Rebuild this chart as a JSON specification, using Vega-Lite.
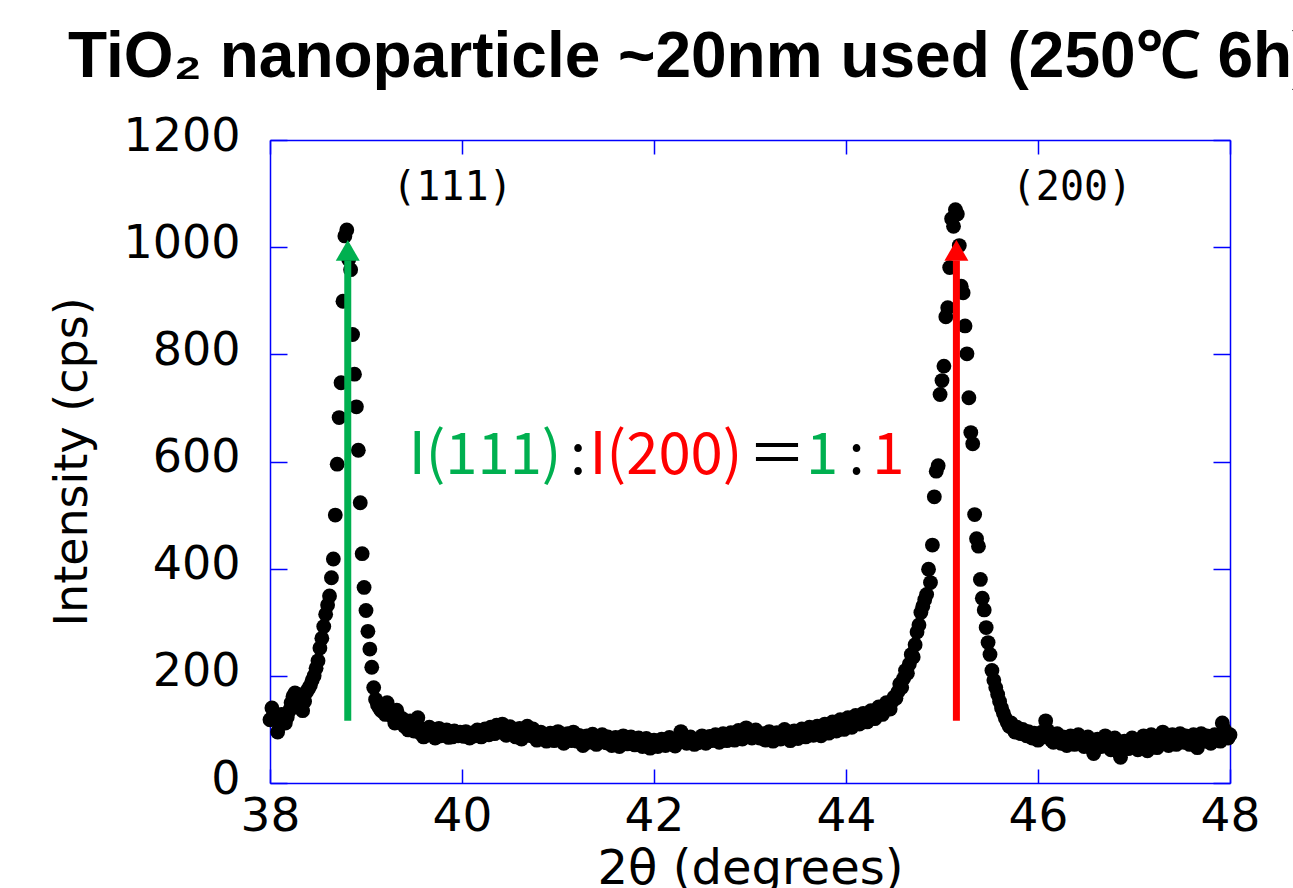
{
"$schema": "https://vega.github.io/schema/vega-lite/v6.json",
"autosize": {"type": "none"},
"width": 960,
"height": 643,
"padding": {"left": 270, "top": 140, "right": 63, "bottom": 105},
"background": "white",
"title": {"text": "TiO₂ nanoparticle ~20nm used (250℃ 6h)", "font": "Liberation Sans", "fontWeight": "bold", "fontSize": 64, "anchor": "start", "frame": "group", "dx": -202, "dy": 88, "offset": 60, "baseline": "alphabetic", "color": "black"},
"config": {"view": {"stroke": null}, "axis": {"domainColor": "#0000ff", "tickColor": "#0000ff", "domainWidth": 1.5, "tickWidth": 1.5, "grid": false, "labelColor": "black", "titleColor": "black", "labelFont": "DejaVu Sans", "titleFont": "DejaVu Sans", "titleFontWeight": "normal"}},
"resolve": {"axis": {"x": "independent", "y": "independent"}},
"layer": [
{"data": {"values": [
{"x":38.00,"y":118},{"x":38.02,"y":140},{"x":38.04,"y":130},{"x":38.06,"y":122},{"x":38.08,"y":95},{"x":38.10,"y":108},{"x":38.12,"y":128},{"x":38.14,"y":118},{"x":38.16,"y":112},{"x":38.18,"y":123},
{"x":38.20,"y":135},{"x":38.22,"y":150},{"x":38.24,"y":162},{"x":38.26,"y":168},{"x":38.28,"y":155},{"x":38.30,"y":165},{"x":38.32,"y":142},{"x":38.34,"y":135},{"x":38.36,"y":152},{"x":38.38,"y":170},
{"x":38.40,"y":176},{"x":38.42,"y":182},{"x":38.44,"y":192},{"x":38.46,"y":200},{"x":38.48,"y":214},{"x":38.50,"y":228},{"x":38.52,"y":252},{"x":38.54,"y":270},{"x":38.56,"y":292},{"x":38.58,"y":315},
{"x":38.60,"y":332},{"x":38.62,"y":349},{"x":38.64,"y":383},{"x":38.66,"y":418},{"x":38.68,"y":500},{"x":38.70,"y":595},{"x":38.72,"y":682},{"x":38.74,"y":747},{"x":38.76,"y":899},{"x":38.78,"y":1021},
{"x":38.80,"y":1032},{"x":38.82,"y":977},{"x":38.84,"y":958},{"x":38.86,"y":837},{"x":38.88,"y":763},{"x":38.90,"y":702},{"x":38.92,"y":621},{"x":38.94,"y":523},{"x":38.96,"y":428},{"x":38.98,"y":365},
{"x":39.00,"y":322},{"x":39.02,"y":283},{"x":39.04,"y":250},{"x":39.06,"y":216},{"x":39.08,"y":178},{"x":39.10,"y":156},{"x":39.12,"y":146},{"x":39.14,"y":140},{"x":39.16,"y":135},{"x":39.18,"y":142},
{"x":39.20,"y":128},{"x":39.22,"y":150},{"x":39.24,"y":137},{"x":39.26,"y":126},{"x":39.28,"y":131},{"x":39.30,"y":112},{"x":39.32,"y":136},{"x":39.34,"y":124},{"x":39.36,"y":114},{"x":39.38,"y":120},
{"x":39.40,"y":106},{"x":39.42,"y":110},{"x":39.44,"y":99},{"x":39.46,"y":116},{"x":39.48,"y":103},{"x":39.50,"y":97},{"x":39.52,"y":108},{"x":39.54,"y":122},{"x":39.56,"y":94},{"x":39.58,"y":101},
{"x":39.60,"y":86},{"x":39.62,"y":96},{"x":39.64,"y":90},{"x":39.66,"y":104},{"x":39.68,"y":92},{"x":39.70,"y":100},{"x":39.72,"y":84},{"x":39.74,"y":96},{"x":39.76,"y":102},{"x":39.78,"y":88},
{"x":39.80,"y":94},{"x":39.82,"y":90},{"x":39.84,"y":99},{"x":39.86,"y":85},{"x":39.88,"y":92},{"x":39.90,"y":86},{"x":39.92,"y":97},{"x":39.94,"y":91},{"x":39.96,"y":88},{"x":39.98,"y":95},
{"x":40.00,"y":90},{"x":40.02,"y":87},{"x":40.04,"y":96},{"x":40.06,"y":92},{"x":40.08,"y":84},{"x":40.10,"y":89},{"x":40.12,"y":94},{"x":40.14,"y":88},{"x":40.16,"y":99},{"x":40.18,"y":92},
{"x":40.20,"y":86},{"x":40.22,"y":95},{"x":40.24,"y":101},{"x":40.26,"y":97},{"x":40.28,"y":90},{"x":40.30,"y":104},{"x":40.32,"y":98},{"x":40.34,"y":92},{"x":40.36,"y":108},{"x":40.38,"y":100},
{"x":40.40,"y":95},{"x":40.42,"y":110},{"x":40.44,"y":103},{"x":40.46,"y":89},{"x":40.48,"y":97},{"x":40.50,"y":105},{"x":40.52,"y":92},{"x":40.54,"y":100},{"x":40.56,"y":86},{"x":40.58,"y":95},
{"x":40.60,"y":102},{"x":40.62,"y":82},{"x":40.64,"y":90},{"x":40.66,"y":98},{"x":40.68,"y":106},{"x":40.70,"y":94},{"x":40.72,"y":88},{"x":40.74,"y":101},{"x":40.76,"y":92},{"x":40.78,"y":80},
{"x":40.80,"y":86},{"x":40.82,"y":95},{"x":40.84,"y":90},{"x":40.86,"y":84},{"x":40.88,"y":78},{"x":40.90,"y":88},{"x":40.92,"y":93},{"x":40.94,"y":85},{"x":40.96,"y":79},{"x":40.98,"y":90},
{"x":41.00,"y":96},{"x":41.02,"y":87},{"x":41.04,"y":82},{"x":41.06,"y":74},{"x":41.08,"y":85},{"x":41.10,"y":92},{"x":41.12,"y":88},{"x":41.14,"y":79},{"x":41.16,"y":95},{"x":41.18,"y":84},
{"x":41.20,"y":78},{"x":41.22,"y":89},{"x":41.24,"y":83},{"x":41.26,"y":70},{"x":41.28,"y":81},{"x":41.30,"y":88},{"x":41.32,"y":76},{"x":41.34,"y":84},{"x":41.36,"y":91},{"x":41.38,"y":79},
{"x":41.40,"y":72},{"x":41.42,"y":84},{"x":41.44,"y":78},{"x":41.46,"y":90},{"x":41.48,"y":82},{"x":41.50,"y":75},{"x":41.52,"y":86},{"x":41.54,"y":80},{"x":41.56,"y":70},{"x":41.58,"y":78},
{"x":41.60,"y":85},{"x":41.62,"y":76},{"x":41.64,"y":68},{"x":41.66,"y":79},{"x":41.68,"y":88},{"x":41.70,"y":82},{"x":41.72,"y":73},{"x":41.74,"y":80},{"x":41.76,"y":86},{"x":41.78,"y":77},
{"x":41.80,"y":71},{"x":41.82,"y":79},{"x":41.84,"y":84},{"x":41.86,"y":75},{"x":41.88,"y":68},{"x":41.90,"y":78},{"x":41.92,"y":83},{"x":41.94,"y":74},{"x":41.96,"y":65},{"x":41.98,"y":72},
{"x":42.00,"y":80},{"x":42.02,"y":76},{"x":42.04,"y":68},{"x":42.06,"y":74},{"x":42.08,"y":82},{"x":42.10,"y":77},{"x":42.12,"y":70},{"x":42.14,"y":78},{"x":42.16,"y":85},{"x":42.18,"y":80},
{"x":42.20,"y":74},{"x":42.22,"y":69},{"x":42.24,"y":77},{"x":42.26,"y":84},{"x":42.28,"y":96},{"x":42.30,"y":88},{"x":42.32,"y":79},{"x":42.34,"y":74},{"x":42.36,"y":81},{"x":42.38,"y":86},
{"x":42.40,"y":78},{"x":42.42,"y":72},{"x":42.44,"y":80},{"x":42.46,"y":75},{"x":42.48,"y":83},{"x":42.50,"y":88},{"x":42.52,"y":80},{"x":42.54,"y":74},{"x":42.56,"y":82},{"x":42.58,"y":87},
{"x":42.60,"y":79},{"x":42.62,"y":84},{"x":42.64,"y":90},{"x":42.66,"y":82},{"x":42.68,"y":76},{"x":42.70,"y":85},{"x":42.72,"y":92},{"x":42.74,"y":86},{"x":42.76,"y":79},{"x":42.78,"y":88},
{"x":42.80,"y":94},{"x":42.82,"y":85},{"x":42.84,"y":80},{"x":42.86,"y":91},{"x":42.88,"y":98},{"x":42.90,"y":87},{"x":42.92,"y":82},{"x":42.94,"y":90},{"x":42.96,"y":103},{"x":42.98,"y":95},
{"x":43.00,"y":88},{"x":43.02,"y":84},{"x":43.04,"y":93},{"x":43.06,"y":99},{"x":43.08,"y":90},{"x":43.10,"y":84},{"x":43.12,"y":92},{"x":43.14,"y":86},{"x":43.16,"y":80},{"x":43.18,"y":89},
{"x":43.20,"y":96},{"x":43.22,"y":87},{"x":43.24,"y":78},{"x":43.26,"y":86},{"x":43.28,"y":94},{"x":43.30,"y":88},{"x":43.32,"y":82},{"x":43.34,"y":91},{"x":43.36,"y":100},{"x":43.38,"y":92},
{"x":43.40,"y":85},{"x":43.42,"y":79},{"x":43.44,"y":90},{"x":43.46,"y":97},{"x":43.48,"y":88},{"x":43.50,"y":83},{"x":43.52,"y":92},{"x":43.54,"y":101},{"x":43.56,"y":94},{"x":43.58,"y":86},
{"x":43.60,"y":95},{"x":43.62,"y":104},{"x":43.64,"y":96},{"x":43.66,"y":89},{"x":43.68,"y":98},{"x":43.70,"y":106},{"x":43.72,"y":95},{"x":43.74,"y":88},{"x":43.76,"y":97},{"x":43.78,"y":110},
{"x":43.80,"y":100},{"x":43.82,"y":93},{"x":43.84,"y":102},{"x":43.86,"y":114},{"x":43.88,"y":105},{"x":43.90,"y":97},{"x":43.92,"y":108},{"x":43.94,"y":118},{"x":43.96,"y":106},{"x":43.98,"y":100},
{"x":44.00,"y":110},{"x":44.02,"y":122},{"x":44.04,"y":112},{"x":44.06,"y":104},{"x":44.08,"y":115},{"x":44.10,"y":126},{"x":44.12,"y":116},{"x":44.14,"y":110},{"x":44.16,"y":120},{"x":44.18,"y":130},
{"x":44.20,"y":121},{"x":44.22,"y":114},{"x":44.24,"y":125},{"x":44.26,"y":135},{"x":44.28,"y":126},{"x":44.30,"y":120},{"x":44.32,"y":132},{"x":44.34,"y":142},{"x":44.36,"y":134},{"x":44.38,"y":128},
{"x":44.40,"y":140},{"x":44.42,"y":150},{"x":44.44,"y":143},{"x":44.46,"y":138},{"x":44.48,"y":152},{"x":44.50,"y":160},{"x":44.52,"y":158},{"x":44.54,"y":170},{"x":44.56,"y":185},{"x":44.58,"y":178},
{"x":44.60,"y":195},{"x":44.62,"y":210},{"x":44.64,"y":205},{"x":44.66,"y":222},{"x":44.68,"y":240},{"x":44.70,"y":235},{"x":44.72,"y":258},{"x":44.74,"y":282},{"x":44.76,"y":295},{"x":44.78,"y":318},
{"x":44.80,"y":330},{"x":44.82,"y":342},{"x":44.84,"y":352},{"x":44.86,"y":399},{"x":44.88,"y":374},{"x":44.90,"y":444},{"x":44.92,"y":534},{"x":44.94,"y":582},{"x":44.96,"y":592},{"x":44.98,"y":725},
{"x":45.00,"y":751},{"x":45.02,"y":778},{"x":45.04,"y":870},{"x":45.06,"y":887},{"x":45.08,"y":962},{"x":45.10,"y":1053},{"x":45.12,"y":1039},{"x":45.14,"y":1070},{"x":45.16,"y":1062},{"x":45.18,"y":1003},
{"x":45.20,"y":927},{"x":45.22,"y":915},{"x":45.24,"y":853},{"x":45.26,"y":801},{"x":45.28,"y":719},{"x":45.30,"y":654},{"x":45.32,"y":633},{"x":45.34,"y":501},{"x":45.36,"y":456},{"x":45.38,"y":442},
{"x":45.40,"y":380},{"x":45.42,"y":345},{"x":45.44,"y":323},{"x":45.46,"y":290},{"x":45.48,"y":262},{"x":45.50,"y":240},{"x":45.52,"y":210},{"x":45.54,"y":192},{"x":45.56,"y":178},{"x":45.58,"y":165},
{"x":45.60,"y":152},{"x":45.62,"y":140},{"x":45.64,"y":130},{"x":45.66,"y":121},{"x":45.68,"y":113},{"x":45.70,"y":106},{"x":45.72,"y":112},{"x":45.74,"y":101},{"x":45.76,"y":95},{"x":45.78,"y":104},
{"x":45.80,"y":98},{"x":45.82,"y":92},{"x":45.84,"y":100},{"x":45.86,"y":94},{"x":45.88,"y":88},{"x":45.90,"y":96},{"x":45.92,"y":90},{"x":45.94,"y":84},{"x":45.96,"y":93},{"x":45.98,"y":87},
{"x":46.00,"y":80},{"x":46.02,"y":89},{"x":46.04,"y":95},{"x":46.06,"y":86},{"x":46.08,"y":116},{"x":46.10,"y":98},{"x":46.12,"y":88},{"x":46.14,"y":80},{"x":46.16,"y":76},{"x":46.18,"y":85},
{"x":46.20,"y":92},{"x":46.22,"y":82},{"x":46.24,"y":74},{"x":46.26,"y":86},{"x":46.28,"y":79},{"x":46.30,"y":70},{"x":46.32,"y":78},{"x":46.34,"y":88},{"x":46.36,"y":82},{"x":46.38,"y":72},
{"x":46.40,"y":80},{"x":46.42,"y":90},{"x":46.44,"y":84},{"x":46.46,"y":76},{"x":46.48,"y":68},{"x":46.50,"y":78},{"x":46.52,"y":86},{"x":46.54,"y":74},{"x":46.56,"y":65},{"x":46.58,"y":55},
{"x":46.60,"y":72},{"x":46.62,"y":82},{"x":46.64,"y":76},{"x":46.66,"y":68},{"x":46.68,"y":78},{"x":46.70,"y":88},{"x":46.72,"y":80},{"x":46.74,"y":70},{"x":46.76,"y":62},{"x":46.78,"y":74},
{"x":46.80,"y":84},{"x":46.82,"y":76},{"x":46.84,"y":58},{"x":46.86,"y":48},{"x":46.88,"y":66},{"x":46.90,"y":78},{"x":46.92,"y":72},{"x":46.94,"y":64},{"x":46.96,"y":75},{"x":46.98,"y":84},
{"x":47.00,"y":78},{"x":47.02,"y":70},{"x":47.04,"y":62},{"x":47.06,"y":74},{"x":47.08,"y":82},{"x":47.10,"y":88},{"x":47.12,"y":76},{"x":47.14,"y":60},{"x":47.16,"y":80},{"x":47.18,"y":90},
{"x":47.20,"y":82},{"x":47.22,"y":74},{"x":47.24,"y":66},{"x":47.26,"y":78},{"x":47.28,"y":86},{"x":47.30,"y":95},{"x":47.32,"y":84},{"x":47.34,"y":76},{"x":47.36,"y":70},{"x":47.38,"y":82},
{"x":47.40,"y":90},{"x":47.42,"y":80},{"x":47.44,"y":72},{"x":47.46,"y":85},{"x":47.48,"y":92},{"x":47.50,"y":84},{"x":47.52,"y":76},{"x":47.54,"y":88},{"x":47.56,"y":80},{"x":47.58,"y":72},
{"x":47.60,"y":84},{"x":47.62,"y":90},{"x":47.64,"y":82},{"x":47.66,"y":66},{"x":47.68,"y":86},{"x":47.70,"y":92},{"x":47.72,"y":84},{"x":47.74,"y":78},{"x":47.76,"y":88},{"x":47.78,"y":82},
{"x":47.80,"y":74},{"x":47.82,"y":85},{"x":47.84,"y":90},{"x":47.86,"y":80},{"x":47.88,"y":86},{"x":47.90,"y":78},{"x":47.92,"y":112},{"x":47.94,"y":100},{"x":47.96,"y":92},{"x":47.98,"y":84},
{"x":48.00,"y":90}
]},
"mark": {"type": "circle", "size": 220, "color": "black", "opacity": 1},
"encoding": {
"x": {"field": "x", "type": "quantitative", "scale": {"domain": [38, 48], "nice": false, "zero": false},
 "axis": {"orient": "bottom", "values": [38, 40, 42, 44, 46, 48], "tickSize": -14, "labelPadding": 24, "labelFontSize": 47, "labelFlush": false, "labelOverlap": false, "title": "2θ (degrees)", "titleFontSize": 48, "titlePadding": 6}},
"y": {"field": "y", "type": "quantitative", "scale": {"domain": [0, 1200], "nice": false},
 "axis": {"orient": "left", "values": [0, 200, 400, 600, 800, 1000, 1200], "format": "d", "tickSize": -17, "labelPadding": 47, "labelFontSize": 46, "labelOffset": -4, "labelFlush": false, "labelOverlap": false, "title": "Intensity (cps)", "titleFontSize": 46, "titlePadding": 26}}
}},
{"data": {"values": [{"x": 38.81, "y": 116, "y2": 975, "c": "g"}, {"x": 45.15, "y": 116, "y2": 975, "c": "r"}]},
"mark": {"type": "rule", "strokeWidth": 7},
"encoding": {
"x": {"field": "x", "type": "quantitative", "axis": {"orient": "top", "values": [38, 40, 42, 44, 46, 48], "labels": false, "title": null, "tickSize": -14}},
"y": {"field": "y", "type": "quantitative", "axis": {"orient": "right", "values": [0, 200, 400, 600, 800, 1000, 1200], "labels": false, "title": null, "tickSize": -17}},
"y2": {"field": "y2"},
"color": {"field": "c", "type": "nominal", "scale": {"domain": ["g", "r", "k"], "range": ["#00b050", "#ff0000", "#000000"]}, "legend": null}
}},
{"data": {"values": [{"x": 38.81, "y": 994, "c": "g"}, {"x": 45.15, "y": 994, "c": "r"}]},
"mark": {"type": "point", "shape": "triangle-up", "filled": true, "size": 576, "opacity": 1},
"encoding": {
"x": {"field": "x", "type": "quantitative", "axis": null},
"y": {"field": "y", "type": "quantitative", "axis": null},
"color": {"field": "c", "type": "nominal", "legend": null}
}},
{"data": {"values": [{"x": 39.9, "y": 1111, "t": "(111)"}, {"x": 46.354, "y": 1111, "t": "(200)"}]},
"mark": {"type": "text", "font": "DejaVu Sans Mono", "fontSize": 40, "baseline": "middle", "align": "center", "color": "black"},
"encoding": {
"x": {"field": "x", "type": "quantitative", "axis": null},
"y": {"field": "y", "type": "quantitative", "axis": null},
"text": {"field": "t"}
}},
{"data": {"values": [
{"x": 40.24, "y": 608, "t": "I(111)", "c": "g"},
{"x": 41.21, "y": 608, "t": ":", "c": "k"},
{"x": 42.125, "y": 608, "t": "I(200)", "c": "r"},
{"x": 43.28, "y": 608, "t": "＝", "c": "k"},
{"x": 43.75, "y": 608, "t": "1", "c": "g"},
{"x": 44.11, "y": 608, "t": ":", "c": "k"},
{"x": 44.44, "y": 608, "t": "1", "c": "r"}
]},
"mark": {"type": "text", "font": "Noto Sans CJK JP", "fontSize": 58, "baseline": "middle", "align": "center"},
"encoding": {
"x": {"field": "x", "type": "quantitative", "axis": null},
"y": {"field": "y", "type": "quantitative", "axis": null},
"text": {"field": "t"},
"color": {"field": "c", "type": "nominal", "legend": null}
}}
]
}
